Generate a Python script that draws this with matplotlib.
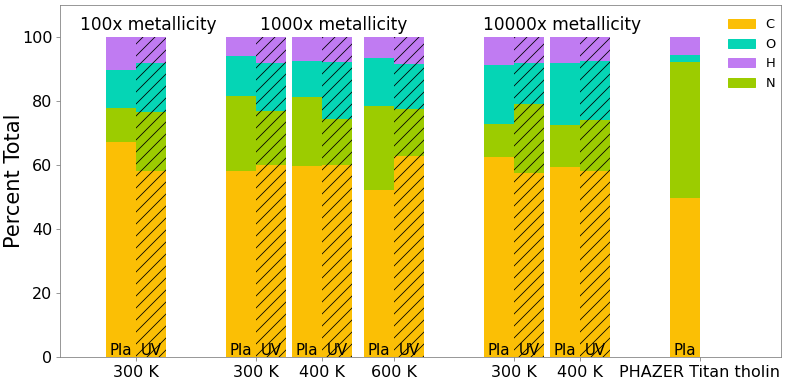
"""
Elemental composition of haze analogues (Pla vs UV), stacked percent bars
"""
import matplotlib
matplotlib.use("Agg")
import matplotlib.pyplot as plt
import numpy as np

tick_labels = ['300 K', '300 K', '400 K', '600 K', '300 K', '400 K', 'PHAZER Titan tholin']
group_titles = ['100x metallicity', '1000x metallicity', '10000x metallicity']

# percent of each element, Pla (plasma) runs, last one is the PHAZER Titan tholin
pla_C = [67.1, 58.2, 59.6, 52.2, 62.5, 59.3, 49.6]
pla_N = [10.7, 23.5, 21.6, 26.2, 10.2, 13.3, 42.6]
pla_O = [11.9, 12.3, 11.3, 15.1, 18.7, 19.4, 2.2]
pla_H = [10.3, 6.0, 7.5, 6.5, 8.6, 8.0, 5.6]

# UV runs (no UV sample for the tholin)
uv_C = [58.2, 59.9, 59.9, 62.7, 57.7, 58.1]
uv_N = [18.3, 17.1, 14.6, 14.9, 21.3, 15.9]
uv_O = [15.5, 14.8, 17.8, 13.9, 13.0, 18.5]
uv_H = [8.0, 8.2, 7.7, 8.5, 8.0, 7.5]

colors = {'C': '#FBBF05', 'O': '#05D5B5', 'H': '#C07BF2', 'N': '#9CCC00'}

# layout
pos = np.array([0, 1, 1.55, 2.15, 3.15, 3.7, 4.7])
w = 0.25
title_x = [0.1, 1.65, 3.55]

plt.rcParams['hatch.linewidth'] = 0.8
fig = plt.figure(figsize=(789 / 72, 381 / 72), dpi=72)
ax = fig.add_axes([60 / 789, 1 - 357.3 / 381, 721 / 789, 352.3 / 381])


def stack(x, parts):
    """draw one stacked bar C, N, O, H from bottom"""
    bottom = 0
    for name, val, hatch in parts:
        ax.bar(x, val, w, bottom=bottom, color=colors[name], hatch=hatch,
               edgecolor='k', linewidth=0)
        bottom += val


for i in range(len(pos)):
    stack(pos[i] - w / 2, [('C', pla_C[i], None), ('N', pla_N[i], None),
                           ('O', pla_O[i], None), ('H', pla_H[i], None)])
    ax.text(pos[i] - w / 2, 0.7, 'Pla', ha='center', va='baseline', fontsize=15)
for i in range(len(uv_C)):
    stack(pos[i] + w / 2, [('C', uv_C[i], '//'), ('N', uv_N[i], '//'),
                           ('O', uv_O[i], '//'), ('H', uv_H[i], '//')])
    ax.text(pos[i] + w / 2, 0.7, 'UV', ha='center', va='baseline', fontsize=15)

for x, t in zip(title_x, group_titles):
    ax.text(x, 103.8, t, ha='center', va='center', fontsize=17)

handles = [plt.Rectangle((0, 0), 1, 1, color=colors[k]) for k in ['C', 'O', 'H', 'N']]
ax.legend(handles, ['C', 'O', 'H', 'N'], loc='upper right', frameon=False,
          fontsize=13, handlelength=2.1, borderaxespad=0.5,
          bbox_to_anchor=(1.009, 0.995))

ax.set_xlim(-0.633, 5.375)
ax.set_ylim(0, 110)
ax.set_xticks(pos)
ax.set_xticklabels(tick_labels, fontsize=16)
ax.set_yticks(range(0, 101, 20))
ax.tick_params(axis='y', labelsize=16)
ax.tick_params(colors='#808080', labelcolor='k', length=4)
ax.set_ylabel('Percent Total', fontsize=21)
ax.yaxis.set_label_coords(-0.05, 0.5)
for s in ax.spines.values():
    s.set_color('#808080')

fig.savefig('out.png', dpi=72)
